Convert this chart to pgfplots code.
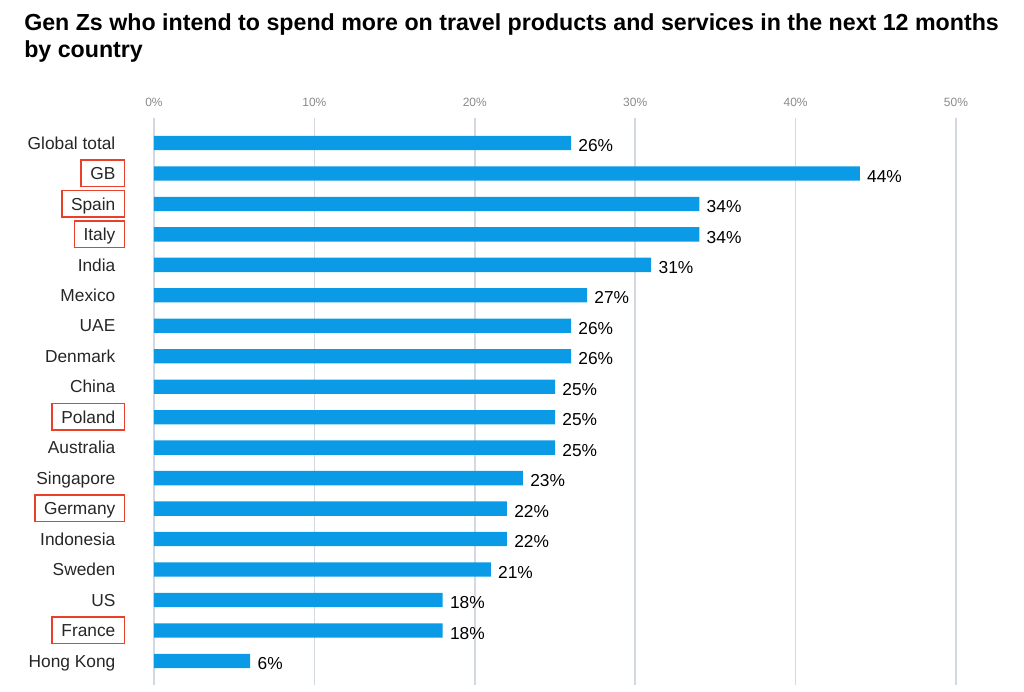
\documentclass[border=0pt]{standalone}
\usepackage{pgfplots}
\pgfplotsset{compat=1.18}
\usepackage{fontspec}
\setmainfont{Liberation Sans}
\definecolor{barc}{HTML}{0B9BE6}
\definecolor{gridc}{HTML}{D3D9E2}
\definecolor{boxred}{HTML}{E8402A}
\definecolor{tickc}{HTML}{8A8A8A}
\newcommand{\rb}[1]{\rlap{\hspace{-7.5pt}{\setlength{\fboxsep}{0pt}\setlength{\fboxrule}{1.2pt}\fcolorbox{boxred}{white}{\hspace{6.3pt}\rule[-4.5pt]{0pt}{18.75pt}#1\hspace{6.3pt}}}}\phantom{#1}}
\begin{document}
\begin{tikzpicture}
\path[use as bounding box] (-115.5pt,-5.25pt) rectangle (652.5pt,513.75pt);
\node[anchor=base west, inner sep=0pt, font=\fontsize{17.4}{19}\selectfont\bfseries] at (-97.5pt,490.5pt) {Gen Zs who intend to spend more on travel products and services in the next 12 months};
\node[anchor=base west, inner sep=0pt, font=\fontsize{17.4}{19}\selectfont\bfseries] at (-97.5pt,470.25pt) {by country};
\begin{axis}[
  at={(0,0)}, anchor=south west,
  scale only axis, width=601.5pt, height=425.25pt,
  xbar, bar width=10.75pt,
  /pgf/number format/assume math mode=true,
  xmin=0, xmax=50, xtick={0,10,20,30,40,50},
  xticklabel={\pgfmathprintnumber{\tick}\%},
  xticklabel pos=upper,
  xticklabel style={font=\fontsize{9}{10}\selectfont, text=tickc, yshift=5pt},
  xmajorgrids, major grid style={gridc, line width=1.1pt},
  ymin=-0.82, ymax=17.79, y dir=reverse,
  ytick={0,...,17},
  yticklabels={Global total,\rb{GB},\rb{Spain},\rb{Italy},India,Mexico,UAE,Denmark,China,\rb{Poland},Australia,Singapore,\rb{Germany},Indonesia,Sweden,US,\rb{France},Hong Kong},
  yticklabel style={anchor=mid east, inner sep=0pt, xshift=-24.5pt, yshift=-2pt, font=\fontsize{13}{15}\selectfont, text=black!85},
  axis line style={draw=none}, major tick style={draw=none},
  point meta=x,
  nodes near coords={\pgfmathprintnumber{\pgfplotspointmeta}\%},
  every node near coord/.append style={anchor=west, font=\fontsize{13}{15}\selectfont, text=black, xshift=2pt, yshift=-2pt},
]
\addplot[fill=barc, draw=none] coordinates {
(26,0) (44,1) (34,2) (34,3) (31,4) (27,5) (26,6) (26,7) (25,8) (25,9) (25,10) (23,11) (22,12) (22,13) (21,14) (18,15) (18,16) (6,17)};
\end{axis}
\end{tikzpicture}
\end{document}
